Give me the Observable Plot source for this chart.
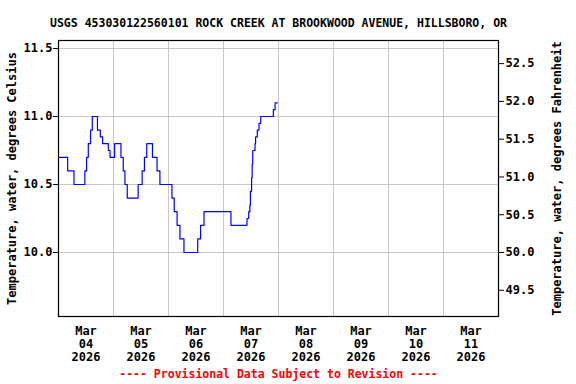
<!DOCTYPE html>
<html>
<head>
<meta charset="utf-8">
<script src="https://cdn.jsdelivr.net/npm/d3@7"></script>
<script src="https://cdn.jsdelivr.net/npm/@observablehq/plot@0.6"></script>
<style>
  html, body { margin: 0; padding: 0; background: #fff; }
</style>
</head>
<body>
<div id="chart"></div>
<script>
const titleText = "USGS 453030122560101 ROCK CREEK AT BROOKWOOD AVENUE, HILLSBORO, OR";
const captionText = "---- Provisional Data Subject to Revision ----";
const leftLabel = "Temperature, water, degrees Celsius";
const rightLabel = "Temperature, water, degrees Fahrenheit";

// Change points (timestamps) and temperatures (°C)
const stepTimes = [
  "2026-03-04T00:00", "2026-03-04T04:00", "2026-03-04T06:45", "2026-03-04T11:30",
  "2026-03-04T12:15", "2026-03-04T13:00", "2026-03-04T14:00", "2026-03-04T14:45",
  "2026-03-04T17:00", "2026-03-04T18:15", "2026-03-04T19:15", "2026-03-04T21:45",
  "2026-03-04T22:30", "2026-03-05T00:30", "2026-03-05T03:15", "2026-03-05T04:15",
  "2026-03-05T05:00", "2026-03-05T06:00", "2026-03-05T10:45", "2026-03-05T12:30",
  "2026-03-05T13:30", "2026-03-05T14:30", "2026-03-05T17:00", "2026-03-05T19:00",
  "2026-03-05T20:15", "2026-03-06T01:30", "2026-03-06T02:30", "2026-03-06T03:45",
  "2026-03-06T05:00", "2026-03-06T06:45", "2026-03-06T12:45", "2026-03-06T14:00",
  "2026-03-06T15:30", "2026-03-07T03:15", "2026-03-07T10:15", "2026-03-07T11:00",
  "2026-03-07T11:30", "2026-03-07T11:45", "2026-03-07T12:15", "2026-03-07T12:30",
  "2026-03-07T12:45", "2026-03-07T13:45", "2026-03-07T14:00", "2026-03-07T14:45",
  "2026-03-07T15:30", "2026-03-07T16:15", "2026-03-07T21:45", "2026-03-07T22:30",
  "2026-03-07T23:30"
];
const tempC = [
  10.7, 10.6, 10.5, 10.6,
  10.7, 10.8, 10.9, 11.0,
  10.9, 10.85, 10.8, 10.75,
  10.7, 10.8, 10.7, 10.6,
  10.5, 10.4, 10.5, 10.6,
  10.7, 10.8, 10.7, 10.6,
  10.5, 10.4, 10.3, 10.2,
  10.1, 10.0, 10.1, 10.2,
  10.3, 10.2, 10.25, 10.3,
  10.35, 10.45, 10.55, 10.65,
  10.75, 10.8, 10.85, 10.9,
  10.95, 11.0, 11.05, 11.1,
  11.1
];

const celsiusTicks = [10.0, 10.5, 11.0, 11.5];
const fahrenheitTicks = [49.5, 50.0, 50.5, 51.0, 51.5, 52.0, 52.5];
const dayStarts = ["2026-03-04", "2026-03-05", "2026-03-06", "2026-03-07", "2026-03-08",
                   "2026-03-09", "2026-03-10", "2026-03-11", "2026-03-12"];
const dayLabels = ["Mar\n04\n2026", "Mar\n05\n2026", "Mar\n06\n2026", "Mar\n07\n2026",
                   "Mar\n08\n2026", "Mar\n09\n2026", "Mar\n10\n2026", "Mar\n11\n2026"];
const yDomain = [9.5294, 11.559];

const toDate = s => new Date(s.length === 10 ? s + "T00:00Z" : s + "Z");
const data = stepTimes.map((t, i) => ({time: toDate(t), temp: tempC[i]}));
const midnights = dayStarts.map(toDate);
const noons = dayStarts.slice(0, 8).map(s => new Date(toDate(s).getTime() + 12 * 3600e3));
const f2c = f => (f - 32) * 5 / 9;
const c2f = c => c * 9 / 5 + 32;

const font = "'DejaVu Sans Mono', monospace";

const chart = Plot.plot({
  width: 576,
  height: 384,
  marginLeft: 58,
  marginRight: 78,
  marginTop: 40,
  marginBottom: 68,
  style: {fontFamily: font, fontSize: "12px", fontWeight: "bold", background: "white", color: "black"},
  x: {type: "utc", domain: [midnights[0], midnights[8]]},
  y: {domain: yDomain},
  marks: [
    Plot.gridY(celsiusTicks, {stroke: "#c8c8c8", strokeOpacity: 1, strokeWidth: 1}),
    Plot.gridX(midnights, {stroke: "#c8c8c8", strokeOpacity: 1, strokeWidth: 1}),
    Plot.axisY(celsiusTicks, {
      anchor: "left", tickSize: 5, tickPadding: 1,
      tickFormat: d => d.toFixed(1),
      label: leftLabel, labelAnchor: "center", labelArrow: "none", labelOffset: 51
    }),
    Plot.axisY(fahrenheitTicks.map(f2c), {
      anchor: "right", tickSize: 5, tickPadding: 2,
      tickFormat: c => c2f(c).toFixed(1),
      label: rightLabel, labelAnchor: "center", labelArrow: "none", labelOffset: 62
    }),
    Plot.axisX(noons, {
      anchor: "bottom", tickSize: 0, tickPadding: 9, lineHeight: 1.1,
      tickFormat: (d, i) => dayLabels[i], label: null
    }),
    Plot.line(data, {x: "time", y: "temp", curve: "step-after", stroke: "#0000ff", strokeWidth: 1.2}),
    Plot.frame({stroke: "black", strokeWidth: 1.2}),
    Plot.text([titleText], {frameAnchor: "top", dy: -22, fontSize: 11.5, fontWeight: "bold", fill: "black"}),
    Plot.text([captionText], {frameAnchor: "bottom", dy: 61, fontSize: 11.5, fontWeight: "bold", fill: "#ff0000"})
  ]
});
document.getElementById("chart").appendChild(chart);
</script>
</body>
</html>
